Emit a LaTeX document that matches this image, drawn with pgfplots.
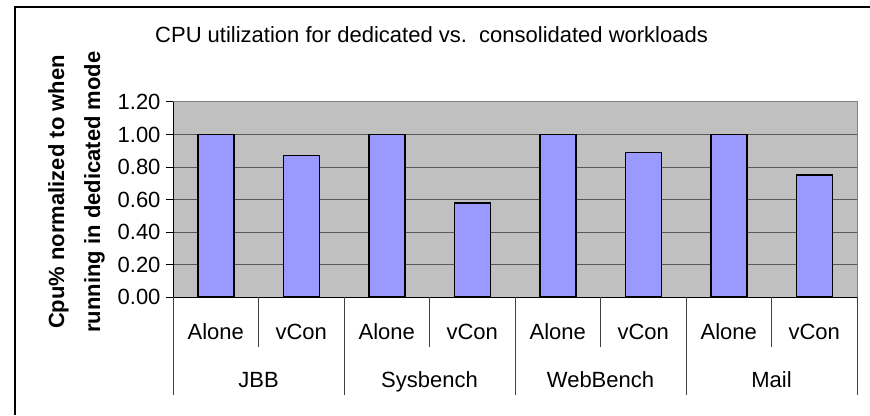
\documentclass[border=0pt]{standalone}
\usepackage{pgfplots}
\pgfplotsset{compat=1.18}
\usepackage{fontspec}
\setmainfont{Liberation Sans}
\definecolor{plotbg}{HTML}{C0C0C0}
\definecolor{barfill}{HTML}{9999FF}
\definecolor{gridc}{HTML}{5A5A5A}
\definecolor{edgec}{HTML}{808080}
\definecolor{catline}{HTML}{404040}
\newcommand{\chartfont}{\fontsize{22bp}{26bp}\selectfont}
\begin{document}
\begin{tikzpicture}[x=1bp,y=1bp]
\useasboundingbox (0,0) rectangle (870,415);
\draw[line width=2bp] (15,0) -- (15,408) -- (870,408);
\node[anchor=base west, font=\chartfont, inner sep=0pt] at (155,373) {CPU utilization for dedicated vs.\ \ consolidated workloads};
\node[rotate=90, anchor=base, font=\bfseries\chartfont, inner sep=0pt] at (64,223) {Cpu\% normalized to when};
\node[rotate=90, anchor=base, font=\bfseries\chartfont, inner sep=0pt] at (100,223) {running in dedicated mode};
\begin{axis}[
  at={(173bp,118bp)}, anchor=south west,
  scale only axis, width=684bp, height=195bp,
  xmin=0, xmax=8, ymin=0, ymax=1.2,
  ytick={0,0.2,0.4,0.6,0.8,1.0,1.2},
  xtick=\empty,
  ytick pos=left, tick align=outside, major tick length=7bp,
  tick style={black, line width=1bp},
  yticklabel style={font=\chartfont, xshift=-2bp, /pgf/number format/fixed, /pgf/number format/zerofill, /pgf/number format/precision=2, /pgf/number format/assume math mode=true},
  axis line style={draw=none},
  axis background/.style={fill=plotbg},
  ymajorgrids, grid style={gridc, line width=1bp},
  clip=false,
]
\addplot[ybar, bar width=36bp, fill=barfill, draw=black, line width=1.5bp]
  coordinates {(0.5,1.00) (1.5,0.87) (2.5,1.00) (3.5,0.58) (4.5,1.00) (5.5,0.89) (6.5,1.00) (7.5,0.75)};
\draw[edgec, line width=1bp] (axis cs:0,1.2) -- (axis cs:8,1.2) -- (axis cs:8,0);
\draw[black, line width=1bp] (axis cs:0,1.2) -- (axis cs:0,0) -- (axis cs:8,0);
\draw[catline, line width=1bp] (axis cs:0,0) -- ++(0,-98bp);
\draw[catline, line width=1bp] (axis cs:1,0) -- ++(0,-50bp);
\draw[catline, line width=1bp] (axis cs:2,0) -- ++(0,-98bp);
\draw[catline, line width=1bp] (axis cs:3,0) -- ++(0,-50bp);
\draw[catline, line width=1bp] (axis cs:4,0) -- ++(0,-98bp);
\draw[catline, line width=1bp] (axis cs:5,0) -- ++(0,-50bp);
\draw[catline, line width=1bp] (axis cs:6,0) -- ++(0,-98bp);
\draw[catline, line width=1bp] (axis cs:7,0) -- ++(0,-50bp);
\draw[catline, line width=1bp] (axis cs:8,0) -- ++(0,-98bp);
\node[anchor=base, font=\chartfont, inner sep=0pt] at ([yshift=-42bp]axis cs:0.5,0) {Alone};
\node[anchor=base, font=\chartfont, inner sep=0pt] at ([yshift=-42bp]axis cs:1.5,0) {vCon};
\node[anchor=base, font=\chartfont, inner sep=0pt] at ([yshift=-42bp]axis cs:2.5,0) {Alone};
\node[anchor=base, font=\chartfont, inner sep=0pt] at ([yshift=-42bp]axis cs:3.5,0) {vCon};
\node[anchor=base, font=\chartfont, inner sep=0pt] at ([yshift=-42bp]axis cs:4.5,0) {Alone};
\node[anchor=base, font=\chartfont, inner sep=0pt] at ([yshift=-42bp]axis cs:5.5,0) {vCon};
\node[anchor=base, font=\chartfont, inner sep=0pt] at ([yshift=-42bp]axis cs:6.5,0) {Alone};
\node[anchor=base, font=\chartfont, inner sep=0pt] at ([yshift=-42bp]axis cs:7.5,0) {vCon};
\node[anchor=base, font=\chartfont, inner sep=0pt] at ([yshift=-90bp]axis cs:1,0) {JBB};
\node[anchor=base, font=\chartfont, inner sep=0pt] at ([yshift=-90bp]axis cs:3,0) {Sysbench};
\node[anchor=base, font=\chartfont, inner sep=0pt] at ([yshift=-90bp]axis cs:5,0) {WebBench};
\node[anchor=base, font=\chartfont, inner sep=0pt] at ([yshift=-90bp]axis cs:7,0) {Mail};
\end{axis}
\end{tikzpicture}
\end{document}
